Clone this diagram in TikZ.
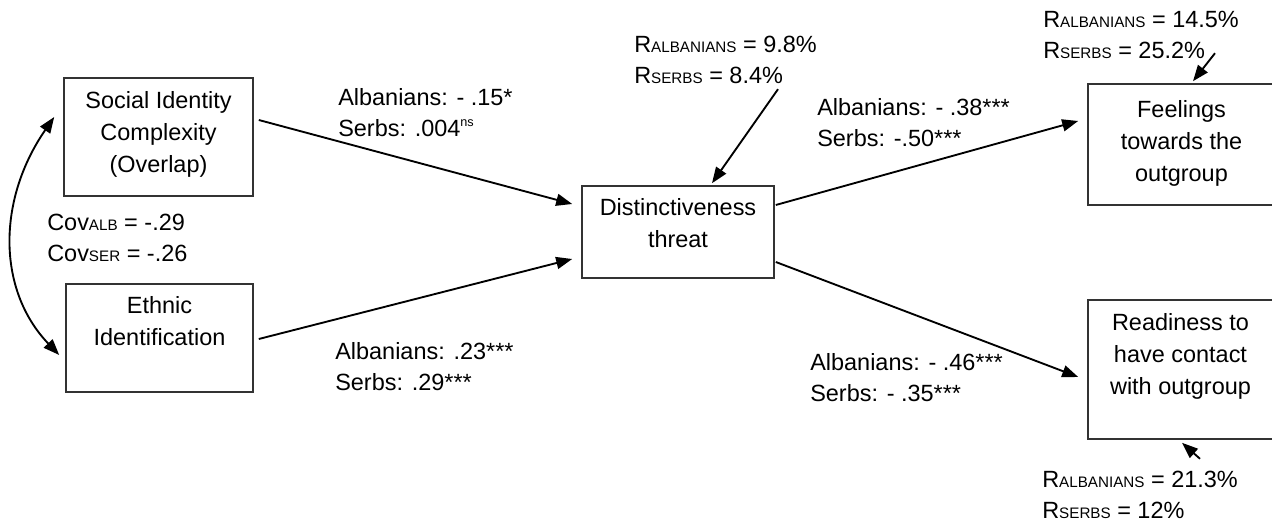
\documentclass[tikz,border=0pt]{standalone}
\usepackage{fontspec}
\setmainfont{Liberation Sans}
\usetikzlibrary{arrows.meta}
\newcommand{\sbs}[1]{{\fontsize{11.4}{11.4}\selectfont #1}}
\newcommand{\nsup}{\raisebox{7pt}{\fontsize{9.5}{9.5}\selectfont ns}}
\begin{document}
\begin{tikzpicture}[x=0.75pt,y=-0.75pt,
  box/.style={draw=black!80,line width=1.2pt,inner sep=0pt},
  txt/.style={inner sep=0pt,align=center,anchor=north,font=\fontsize{17.6}{24}\selectfont},
  lbl/.style={inner sep=0pt,align=left,anchor=north west,font=\fontsize{17.6}{23.25}\selectfont},
  arr/.style={-{Triangle[length=12pt,width=9pt]},line width=1.4pt},
  darr/.style={{Triangle[length=12pt,width=9pt]}-{Triangle[length=12pt,width=9pt]},line width=1.4pt}]
\useasboundingbox (0,0) rectangle (1272,523);
\clip (0,0) rectangle (1272,523);
% boxes
\node[box,minimum width=141.75pt,minimum height=88.5pt] (sic) at (158.5,137) {};
\node[box,minimum width=140.25pt,minimum height=81pt] (eth) at (159.5,338) {};
\node[box,minimum width=144pt,minimum height=69pt] (dt) at (678,232) {};
\node[box,minimum width=140.25pt,minimum height=90.75pt] (fe) at (1181.5,144.5) {};
\node[box,minimum width=140.25pt,minimum height=104.25pt] (rd) at (1181.5,369.5) {};
% box texts
\node[txt] (sict) at (158.5,91) {Social Identity\\Complexity\\(Overlap)};
\node[txt] (etht) at (159.5,296) {Ethnic\\Identification};
\node[txt] (dtt) at (678,198) {Distinctiveness\\threat};
\node[txt] (fet) at (1181.5,100) {Feelings\\towards the\\outgroup};
\node[txt] (rdt) at (1180.5,313) {Readiness to\\have contact\\with outgroup};
% labels
\node[lbl] (l1) at (338,88) {Albanians: - .15*\\Serbs: .004\nsup};
\node[lbl] (l2) at (335,342) {Albanians: .23***\\Serbs: .29***};
\node[lbl] (l3) at (817,98) {Albanians: - .38***\\Serbs: -.50***};
\node[lbl] (l4) at (810,353) {Albanians: - .46***\\Serbs: - .35***};
\node[lbl] (rdtl) at (634,36) {R\sbs{ALBANIANS} = 9.8\%\\R\sbs{SERBS} = 8.4\%};
\node[lbl] (rfel) at (1043,11) {R\sbs{ALBANIANS} = 14.5\%\\R\sbs{SERBS} = 25.2\%};
\node[lbl] (rrdl) at (1042,471) {R\sbs{ALBANIANS} = 21.3\%\\R\sbs{SERBS} = 12\%};
\node[lbl] (cov) at (47,214) {Cov\sbs{ALB} = -.29\\Cov\sbs{SER} = -.26};
% paths
\draw[arr] ([shift={(5,-17)}]sic.east) -- ([shift={(-9,-28)}]dt.west);
\draw[arr] ([shift={(5,1)}]eth.east) -- ([shift={(-9,27)}]dt.west);
\draw[arr] ([shift={(1,-27)}]dt.east) -- ([shift={(-9,-23.5)}]fe.west);
\draw[arr] ([shift={(1,30)}]dt.east) -- ([shift={(-9,7.5)}]rd.west);
% R arrows
\draw[arr] ([shift={(100,-96)}]dt.north) -- ([shift={(34,-2)}]dt.north);
\draw[arr] ([shift={(33.5,-30)}]fe.north) -- ([shift={(11.5,-2)}]fe.north);
\draw[arr] ([shift={(18.5,19)}]rd.south) -- ([shift={(0.5,3)}]rd.south);
% covariance
\draw[darr] ([shift={(-9,-20)}]sic.west) .. controls (-3,200) and (-3,290) .. ([shift={(-6,17)}]eth.west);
\end{tikzpicture}
\end{document}
